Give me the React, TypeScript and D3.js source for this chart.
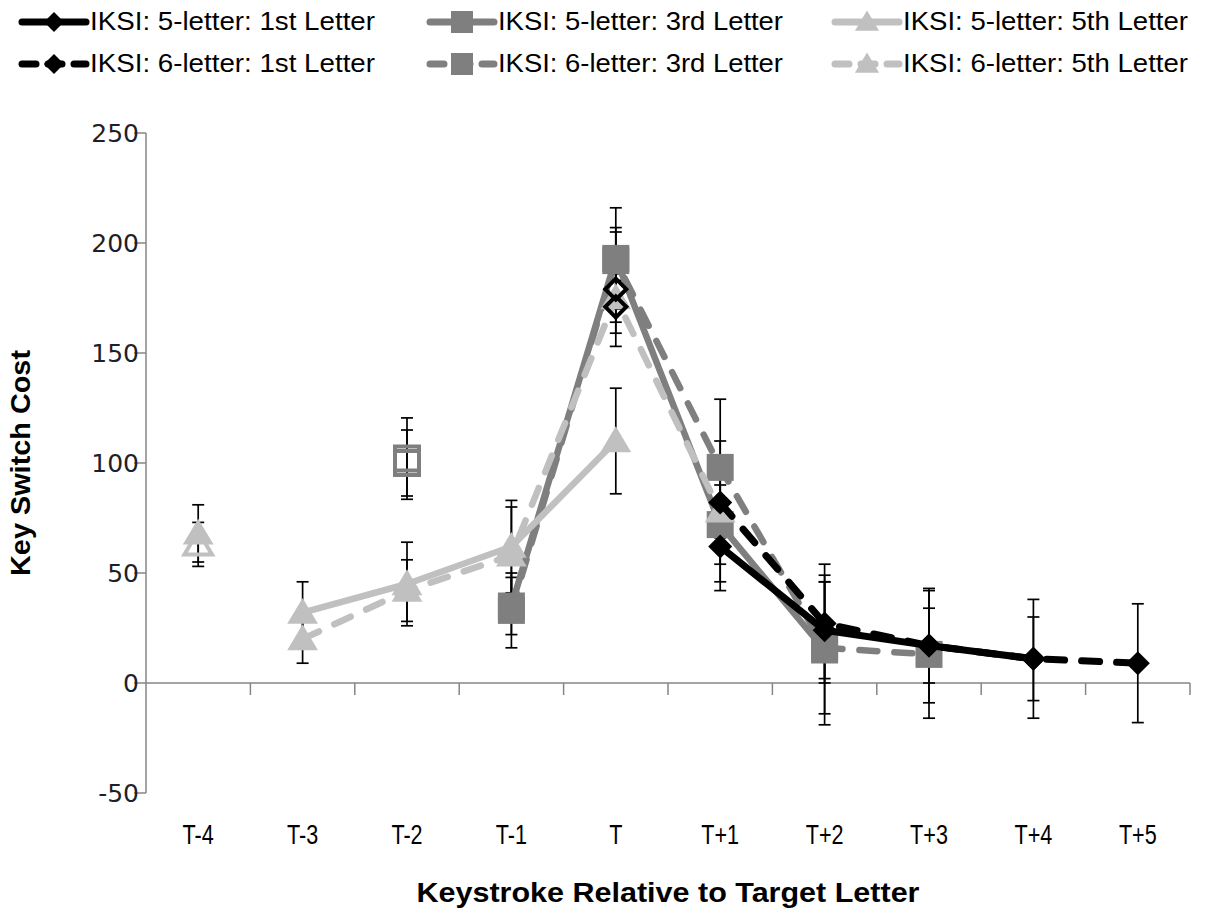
import * as d3 from "d3";

const categories = ["T-4", "T-3", "T-2", "T-1", "T", "T+1", "T+2", "T+3", "T+4", "T+5"];
const yTicks = [-50, 0, 50, 100, 150, 200, 250];

type V = number | null;

// values per category; the first point of each series is an unconnected marker
const five1st: V[] = [null, null, null, null, 171, 62, 24, 17, 11, null];
const five1stErr: V[] = [null, null, null, null, 12, 16, 22, 26, 19, null];
const five3rd: V[] = [null, null, 100, 35, 193, 72, 15, null, null, null];
const five3rdErr: V[] = [null, null, 15, 13, 23, 30, 34, null, null, null];
const five5th: V[] = [68, 32, 45, 62, 110, null, null, null, null, null];
const five5thErr: V[] = [13, 14, 19, 21, 24, null, null, null, null, null];
const six1st: V[] = [null, null, null, null, 179, 82, 27, 17, 11, 9];
const six1stErr: V[] = [null, null, null, null, 26, 28, 27, 17, 27, 27];
const six3rd: V[] = [null, null, 102, 33, 192, 98, 16, 13, null, null];
const six3rdErr: V[] = [null, null, 18.5, 17, 15, 31, 30, 29, null, null];
const six5th: V[] = [63, 20, 42, 58, 175, 78, null, null, null, null];
const six5thErr: V[] = [10, 11, 14, 22, 11, 12, null, null, null, null];

const seriesNames = [
  "IKSI: 5-letter: 1st Letter",
  "IKSI: 5-letter: 3rd Letter",
  "IKSI: 5-letter: 5th Letter",
  "IKSI: 6-letter: 1st Letter",
  "IKSI: 6-letter: 3rd Letter",
  "IKSI: 6-letter: 5th Letter",
];

const BLACK = "#000000";
const DARK = "#7f7f7f";
const LIGHT = "#c0c0c0";
const AXIS = "#868686";

interface Series {
  name: string;
  values: V[];
  errors: V[];
  color: string;
  dashed: boolean;
  marker: "diamond" | "square" | "triangle";
  firstHollow: boolean;
}

const series: Series[] = [
  { name: seriesNames[0], values: five1st, errors: five1stErr, color: BLACK, dashed: false, marker: "diamond", firstHollow: true },
  { name: seriesNames[1], values: five3rd, errors: five3rdErr, color: DARK, dashed: false, marker: "square", firstHollow: true },
  { name: seriesNames[2], values: five5th, errors: five5thErr, color: LIGHT, dashed: false, marker: "triangle", firstHollow: false },
  { name: seriesNames[3], values: six1st, errors: six1stErr, color: BLACK, dashed: true, marker: "diamond", firstHollow: true },
  { name: seriesNames[4], values: six3rd, errors: six3rdErr, color: DARK, dashed: true, marker: "square", firstHollow: true },
  { name: seriesNames[5], values: six5th, errors: six5thErr, color: LIGHT, dashed: true, marker: "triangle", firstHollow: true },
];

// drawing order: 3rd letter, then 5th, then 1st on top
const drawOrder = [1, 4, 2, 5, 0, 3];

const W = 1209;
const H = 917;
const NARROW = "'Liberation Sans Narrow', 'Arial Narrow', 'Liberation Sans', sans-serif";

function markerPath(kind: string, s: number) {
  if (kind === "diamond") return `M0,${-s}L${s},0L0,${s}L${-s},0Z`;
  if (kind === "square") return `M${-s},${-s}H${s}V${s}H${-s}Z`;
  return `M0,${-s * 1.05}L${s * 1.1},${s * 0.8}L${-s * 1.1},${s * 0.8}Z`;
}

function filledSize(kind: string) {
  return kind === "diamond" ? 12 : kind === "square" ? 13.5 : 14;
}

export default function App() {
  const x = d3.scaleBand<string>().domain(categories).range([146, 1190]);
  const y = d3.scaleLinear().domain([-50, 250]).range([793, 133]);
  const cx = (i: number) => (x(categories[i]) ?? 0) + x.bandwidth() / 2;

  const line = d3
    .line<[number, V]>()
    .defined((d) => d[1] !== null)
    .x((d) => cx(d[0]))
    .y((d) => y(d[1] as number));

  const firstIdx = (vals: V[]) => vals.findIndex((v) => v !== null);

  const legendCols = [22, 430, 835];
  const legendRows = [22, 64];

  return (
    <svg
      width={W}
      height={H}
      style={{ position: "absolute", left: 0, top: 0, background: "#fff" }}
    >
      {/* legend */}
      {series.map((s, k) => {
        const col = k % 3;
        const row = Math.floor(k / 3);
        const lx = legendCols[col];
        const ly = legendRows[row];
        const sz = s.marker === "diamond" ? 10 : 11;
        return (
          <g key={s.name}>
            <line
              x1={lx}
              x2={lx + 64}
              y1={ly}
              y2={ly}
              stroke={s.color}
              strokeWidth={7}
              strokeLinecap="round"
              strokeDasharray={s.dashed ? "14 12" : undefined}
            />
            <path d={markerPath(s.marker, sz)} transform={`translate(${lx + 32},${ly})`} fill={s.color} />
            <text
              x={lx + 68}
              y={ly + 8}
              fontFamily={NARROW}
              fontSize={25}
              fill="#000"
              textLength={285}
              lengthAdjust="spacingAndGlyphs"
            >
              {s.name}
            </text>
          </g>
        );
      })}

      {/* y axis */}
      <line x1={146} x2={146} y1={y(250)} y2={y(-50)} stroke={AXIS} strokeWidth={1.5} />
      {yTicks.map((t) => (
        <g key={t}>
          <line x1={134} x2={146} y1={y(t)} y2={y(t)} stroke={AXIS} strokeWidth={1.5} />
          <text
            x={139}
            y={y(t) + 9}
            textAnchor="end"
            fontFamily="'DejaVu Sans', Verdana, sans-serif"
            fontSize={25}
            fill="#1f1f2a"
          >
            {t}
          </text>
        </g>
      ))}

      {/* x axis at zero */}
      <line x1={146} x2={1190} y1={y(0)} y2={y(0)} stroke={AXIS} strokeWidth={1.5} />
      {categories.map((c) => (
        <line
          key={"t" + c}
          x1={(x(c) ?? 0) + x.bandwidth()}
          x2={(x(c) ?? 0) + x.bandwidth()}
          y1={y(0)}
          y2={y(0) + 12}
          stroke={AXIS}
          strokeWidth={1.5}
        />
      ))}
      {categories.map((c, i) => (
        <text
          key={"l" + c}
          transform={`translate(${cx(i)},844) scale(0.8,1)`}
          textAnchor="middle"
          fontFamily={NARROW}
          fontSize={27}
          fill="#000"
        >
          {c}
        </text>
      ))}

      {/* axis titles */}
      <text
        x={668}
        y={902}
        textAnchor="middle"
        fontFamily={NARROW}
        fontWeight="bold"
        fontSize={27}
        textLength={503}
        lengthAdjust="spacingAndGlyphs"
      >
        Keystroke Relative to Target Letter
      </text>
      <text
        transform={`translate(30,463) rotate(-90)`}
        textAnchor="middle"
        fontFamily={NARROW}
        fontWeight="bold"
        fontSize={27}
        textLength={226}
        lengthAdjust="spacingAndGlyphs"
      >
        Key Switch Cost
      </text>

      {/* error bars */}
      {series.map((s) => (
        <g key={"e" + s.name}>
          {s.values.map((v, i) => {
            const e = s.errors[i];
            if (v === null || e === null) return null;
            const px = cx(i);
            const top = y(v + e);
            const bot = y(v - e);
            return (
              <g key={i} stroke="#000" strokeWidth={1.7}>
                <line x1={px} x2={px} y1={top} y2={bot} />
                <line x1={px - 6} x2={px + 6} y1={top} y2={top} />
                <line x1={px - 6} x2={px + 6} y1={bot} y2={bot} />
              </g>
            );
          })}
        </g>
      ))}

      {/* series */}
      {drawOrder.map((k) => {
        const s = series[k];
        const f = firstIdx(s.values);
        const pts: [number, V][] = s.values.map((v, i) => [i, i === f ? null : v]);
        return (
          <g key={"s" + s.name}>
            <path
              d={line(pts) ?? ""}
              fill="none"
              stroke={s.color}
              strokeWidth={s.color === BLACK ? 7 : 6.5}
              strokeLinecap="round"
              strokeLinejoin="round"
              strokeDasharray={s.dashed ? "18 17" : undefined}
            />
            {s.values.map((v, i) => {
              if (v === null) return null;
              const hollow = i === f && s.firstHollow;
              const sz = filledSize(s.marker);
              return (
                <path
                  key={i}
                  d={markerPath(s.marker, hollow ? sz - 1.5 : sz)}
                  transform={`translate(${cx(i)},${y(v)})`}
                  fill={hollow ? "none" : s.color}
                  stroke={hollow ? s.color : "none"}
                  strokeWidth={hollow ? 4 : 0}
                />
              );
            })}
          </g>
        );
      })}
    </svg>
  );
}
